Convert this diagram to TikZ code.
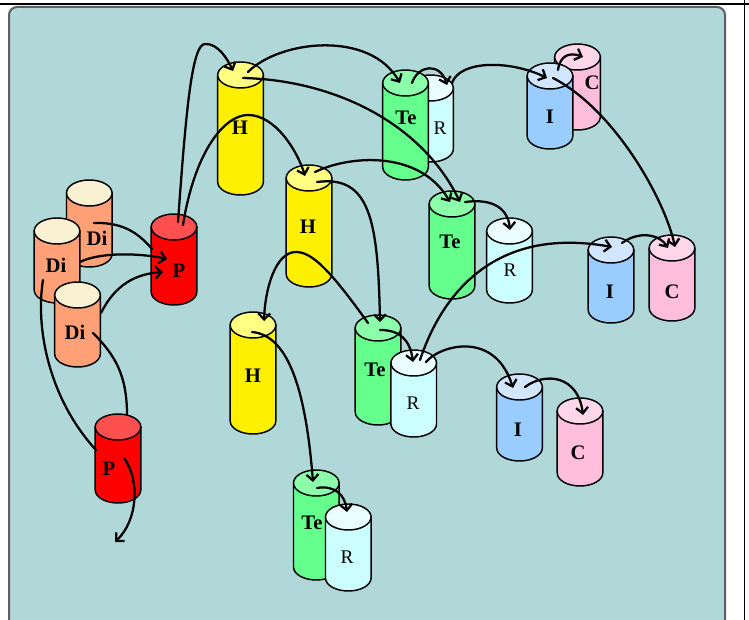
\documentclass[tikz,border=0pt]{standalone}
\usepackage{fontspec}
\setmainfont{Liberation Serif}
\usetikzlibrary{arrows.meta}
\definecolor{panel}{RGB}{176,216,216}
\definecolor{panelborder}{RGB}{95,95,95}
\definecolor{dibody}{RGB}{255,160,118}
\definecolor{ditop}{RGB}{250,240,210}
\definecolor{pbody}{RGB}{255,0,0}
\definecolor{ptop}{RGB}{255,80,80}
\definecolor{hbody}{RGB}{255,240,0}
\definecolor{htop}{RGB}{255,255,130}
\definecolor{tebody}{RGB}{100,255,140}
\definecolor{tetop}{RGB}{140,255,170}
\definecolor{rbody}{RGB}{204,255,255}
\definecolor{rtop}{RGB}{236,255,255}
\definecolor{ibody}{RGB}{153,204,255}
\definecolor{itop}{RGB}{210,230,255}
\definecolor{cbody}{RGB}{255,190,220}
\definecolor{ctop}{RGB}{255,215,232}
\tikzset{
  cylline/.style={draw=black, line width=1.1pt},
  conn/.style={draw=black, line width=1.7pt, line cap=round, -{Straight Barb[length=4.5pt,width=9pt]}},
  link/.style={draw=black, line width=1.7pt, line cap=round},
  lab/.style={font=\fontsize{15.5}{15.5}\selectfont\bfseries, inner sep=0pt},
  labr/.style={font=\fontsize{14.5}{14.5}\selectfont, inner sep=0pt},
}
% #1 name, #2 cx, #3 ytop, #4 ybottom, #5 body colour, #6 top colour, #7 text, #8 label position, #9 label style
\newcommand\cylinder[9]{%
  \filldraw[cylline, fill=#5] (#2-22.8,-#3-13) -- (#2-22.8,-#4+13)
     arc[start angle=180,end angle=360,x radius=22.8,y radius=13] -- (#2+22.8,-#3-13) -- cycle;
  \filldraw[cylline, fill=#6] (#2,-#3-13) ellipse[x radius=22.8,y radius=13];
  \coordinate (#1) at (#2,-#3-13);
  \node[#9] (#1-l) at (#8) {#7};
}
\begin{document}
\begin{tikzpicture}[x=0.75pt,y=0.75pt]
\useasboundingbox (0,0) rectangle (749,-620);
\fill[white] (0,0) rectangle (749,-620);
\draw[draw=panelborder, fill=panel, line width=1.5pt, rounded corners=6pt] (9,-7) rectangle (725,-640);
\draw[black, line width=1.5pt] (0,-4.5) -- (749,-4.5);
\draw[black, line width=1.2pt] (744.5,0) -- (744.5,-620);

% cylinders, back to front
\cylinder{Dib}{89.3}{180}{267}{dibody}{ditop}{Di}{97,-238}{lab}
\cylinder{Dil}{57}{218}{303}{dibody}{ditop}{Di}{56,-265}{lab}
\cylinder{Dis}{77.5}{282}{367}{dibody}{ditop}{Di}{75,-332}{lab}
\cylinder{P1}{174}{214}{305}{pbody}{ptop}{P}{179,-271}{lab}
\cylinder{H1}{240.5}{62}{195}{hbody}{htop}{H}{240,-128}{lab}
\cylinder{H2}{309}{165}{287}{hbody}{htop}{H}{308,-227}{lab}
\cylinder{H3}{253}{312}{434}{hbody}{htop}{H}{253,-376}{lab}
\cylinder{R1}{430.5}{75}{162}{rbody}{rtop}{R}{440,-128}{labr}
\cylinder{Te1}{405.5}{70}{180}{tebody}{tetop}{Te}{406,-118}{lab}
\cylinder{C1}{577.5}{44}{130}{cbody}{ctop}{C}{592,-83}{lab}
\cylinder{I1}{550}{63}{149}{ibody}{itop}{I}{550,-117}{lab}
\cylinder{Te2}{452}{191}{299}{tebody}{tetop}{Te}{450,-242}{lab}
\cylinder{R2}{509.5}{218}{303}{rbody}{rtop}{R}{510,-270}{labr}
\cylinder{I2}{611}{237}{323}{ibody}{itop}{I}{610,-292}{lab}
\cylinder{C2}{672}{235}{321}{cbody}{ctop}{C}{672,-292}{lab}
\cylinder{Te3}{378}{315}{425}{tebody}{tetop}{Te}{375,-370}{lab}
\cylinder{R3}{413.7}{350}{437}{rbody}{rtop}{R}{413,-403}{labr}
\cylinder{I3}{519.5}{374}{461}{ibody}{itop}{I}{518,-430}{lab}
\cylinder{C3}{580}{398}{486}{cbody}{ctop}{C}{578,-453}{lab}
\cylinder{P2}{118}{414}{503}{pbody}{ptop}{P}{109,-469}{lab}
\cylinder{Te4}{316.3}{470}{580}{tebody}{tetop}{Te}{312,-523}{lab}
\cylinder{R4}{348.3}{504}{591}{rbody}{rtop}{R}{347,-557}{labr}

% connectors
\draw[link] ([shift={(4.7,-30)}]Dib) .. controls (125,-222) and (140,-235) .. ([shift={(-22,-22)}]P1);
\draw[conn] ([shift={(23,-31)}]Dil) .. controls (100,-252) and (140,-253) .. ([shift={(-7,-32)}]P1);
\draw[conn] ([shift={(23.5,-18)}]Dis) .. controls (115,-285) and (135,-274) .. ([shift={(-11,-45)}]P1);
\draw[conn] ([shift={(4,5)}]P1) .. controls (186,-110) and (192,-44) .. (205,-44) .. controls (218,-43) and (228,-60) .. ([shift={(-7.5,4)}]H1);
\draw[conn] ([shift={(9,2)}]P1) .. controls (195,-150) and (225,-115) .. (248,-115) .. controls (275,-115) and (297,-150) .. ([shift={(-4,2)}]H2);
\draw[conn] ([shift={(7.5,3)}]H1) .. controls (280,-40) and (370,-30) .. ([shift={(-5.5,0)}]Te1);
\draw[conn] ([shift={(2.5,-3)}]H1) .. controls (330,-80) and (420,-120) .. ([shift={(8,2)}]Te2);
\draw[conn] ([shift={(6.5,0)}]Te1) .. controls (418,-65) and (440,-62) .. ([shift={(16.5,3)}]R1);
\draw[conn] ([shift={(6,6)}]H2) .. controls (350,-155) and (420,-150) .. ([shift={(-2,2)}]Te2);
\draw[conn] ([shift={(8,-4)}]H2) .. controls (370,-175) and (378,-220) .. ([shift={(2,6)}]Te3);
\draw[conn] ([shift={(21.5,5)}]R1) .. controls (460,-60) and (510,-60) .. ([shift={(-3,-2)}]I1);
\draw[conn] ([shift={(8,6)}]I1) .. controls (560,-55) and (570,-52) .. ([shift={(5.5,0)}]C1);
\draw[conn] ([shift={(3,-2)}]I1) .. controls (615,-110) and (665,-200) .. ([shift={(3,1)}]C2);
\draw[conn] ([shift={(13,2)}]Te2) .. controls (495,-198) and (508,-210) .. ([shift={(0.5,1)}]R2);
\draw[conn] ([shift={(11,7)}]I2) .. controls (640,-230) and (660,-235) .. ([shift={(-4,0)}]C2);
\draw[conn] ([shift={(6.3,3)}]R3) .. controls (440,-300) and (490,-225) .. ([shift={(1,3)}]I2);
\draw[conn] ([shift={(2,-2)}]Te3) .. controls (400,-330) and (410,-340) .. ([shift={(-0.7,1)}]R3);
\draw[conn] ([shift={(12.3,1)}]R3) .. controls (440,-345) and (495,-330) .. ([shift={(-6.5,-1)}]I3);
\draw[conn] ([shift={(5.5,0)}]I3) .. controls (545,-372) and (578,-375) .. ([shift={(3,-4)}]C3);
\draw[conn] ([shift={(-10,5)}]Te3) .. controls (330,-270) and (312,-252) .. (296,-252) .. controls (275,-252) and (265,-290) .. ([shift={(11,4)}]H3);
\draw[conn] ([shift={(-1,-7)}]H3) .. controls (285,-335) and (305,-380) .. ([shift={(-3.3,1)}]Te4);
\draw[conn] ([shift={(0.7,-5)}]Te4) .. controls (335,-485) and (345,-495) .. ([shift={(-1.3,5)}]R4);
\draw[link] ([shift={(-14,-49)}]Dil) .. controls (35,-330) and (50,-400) .. ([shift={(-22,-23)}]P2);
\draw[link] ([shift={(15.5,-38)}]Dis) .. controls (115,-355) and (127,-375) .. ([shift={(9,12)}]P2);
\coordinate (pout) at (115,-542);
\draw[conn] ([shift={(6,-31)}]P2) .. controls (140,-480) and (138,-520) .. (pout);
\end{tikzpicture}
\end{document}
